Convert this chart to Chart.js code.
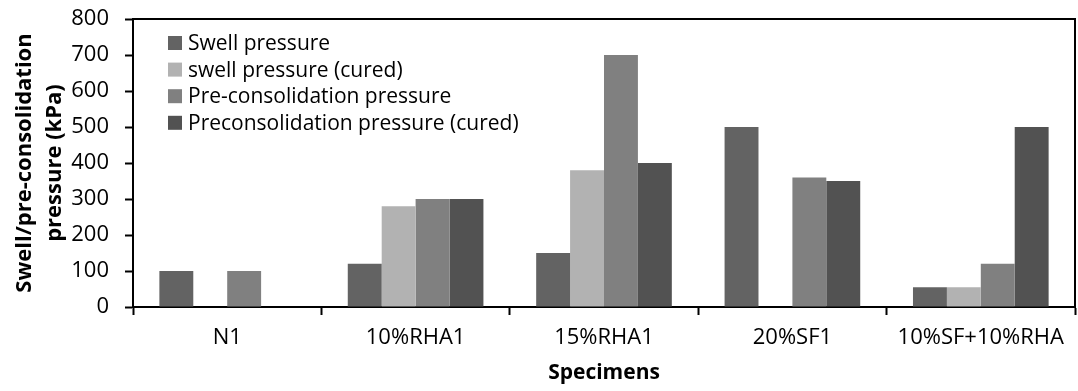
<!DOCTYPE html>
<html>
<head>
<meta charset="utf-8">
<script src="https://cdn.jsdelivr.net/npm/chart.js@4.4.1/dist/chart.umd.min.js"></script>
<style>
  html, body { margin: 0; padding: 0; background: #fff; }
  #wrap { width: 1078px; height: 391px; position: relative; }
</style>
</head>
<body>
<div id="wrap"><canvas id="pressureChart"></canvas></div>
<script>
// Especímenes y presiones medidas (kPa); null = sin ensayo
const specimens = ['N1', '10%RHA1', '15%RHA1', '20%SF1', '10%SF+10%RHA'];
const swellPressure = [100, 120, 150, 500, 55];
const swellPressureCured = [null, 280, 380, null, 55];
const preconPressure = [100, 300, 700, 360, 120];
const preconPressureCured = [null, 300, 400, 350, 500];

const seriesNames = [
    'Swell pressure',
    'swell pressure (cured)',
    'Pre-consolidation pressure',
    'Preconsolidation pressure (cured)'
];
const seriesColors = ['#636363', '#b2b2b2', '#808080', '#525252'];

const yMin = 0;
const yMax = 800;
const yStep = 100;

const FONT = "'Open Sans', 'Liberation Sans', sans-serif";

// Leyenda dibujada dentro del área del gráfico, arriba a la izquierda
const insideLegend = {
    id: 'insideLegend',
    afterDraw(chart) {
        const ctx = chart.ctx;
        const area = chart.chartArea;
        ctx.save();
        ctx.font = '21px ' + FONT;
        ctx.textBaseline = 'middle';
        chart.data.datasets.forEach((ds, i) => {
            const y = area.top + 24 + i * 26.6;
            ctx.fillStyle = ds.backgroundColor;
            ctx.fillRect(area.left + 35, y - 7, 14, 14);
            ctx.fillStyle = '#000';
            ctx.fillText(ds.label, area.left + 55, y + 1);
        });
        ctx.restore();
    }
};

// Marco superior y derecho + título del eje Y en dos líneas
const frameAndTitle = {
    id: 'frameAndTitle',
    afterDraw(chart) {
        const ctx = chart.ctx;
        const area = chart.chartArea;
        ctx.save();
        ctx.strokeStyle = '#000';
        ctx.lineWidth = 2;
        ctx.beginPath();
        ctx.moveTo(area.left, area.top);
        ctx.lineTo(area.right, area.top);
        ctx.lineTo(area.right, area.bottom);
        ctx.stroke();

        const midY = (area.top + area.bottom) / 2;
        ctx.translate(0, midY);
        ctx.rotate(-Math.PI / 2);
        ctx.fillStyle = '#000';
        ctx.font = 'bold 22px ' + FONT;
        ctx.textAlign = 'center';
        ctx.textBaseline = 'middle';
        ctx.fillText('Swell/pre-consolidation', 0, 25);
        ctx.fillText('pressure (kPa)', 0, 55);
        ctx.restore();
    }
};

const ctx = document.getElementById('pressureChart').getContext('2d');
new Chart(ctx, {
    type: 'bar',
    data: {
        labels: specimens,
        datasets: [swellPressure, swellPressureCured, preconPressure, preconPressureCured].map((values, i) => ({
            label: seriesNames[i],
            data: values,
            backgroundColor: seriesColors[i],
            borderWidth: 0,
            barPercentage: 1,
            categoryPercentage: 0.72
        }))
    },
    options: {
        responsive: true,
        maintainAspectRatio: false,
        animation: false,
        events: [],
        layout: { padding: { top: 19, right: 3, left: 0, bottom: 0 } },
        plugins: {
            legend: { display: false },
            tooltip: { enabled: false }
        },
        scales: {
            x: {
                afterFit(scale) {
                    scale.height = 84;
                    scale.paddingLeft = 0;
                    scale.paddingRight = 0;
                },
                border: { color: '#000', width: 2 },
                grid: {
                    offset: true,
                    drawOnChartArea: false,
                    tickLength: 8,
                    tickColor: '#000',
                    tickWidth: 2
                },
                ticks: {
                    color: '#000',
                    font: { family: FONT, size: 22 },
                    padding: 10,
                    maxRotation: 0
                },
                title: {
                    display: true,
                    text: 'Specimens',
                    color: '#000',
                    font: { family: FONT, size: 21, weight: 'bold' },
                    padding: { top: 0, bottom: 5 }
                }
            },
            y: {
                min: yMin,
                max: yMax,
                afterFit(scale) {
                    scale.width = 133;
                    // sin margen extra arriba/abajo: el área empieza en el padding del layout
                    scale.paddingTop = 0;
                    scale.paddingBottom = 0;
                },
                border: { color: '#000', width: 2 },
                grid: {
                    drawOnChartArea: false,
                    tickLength: 8,
                    tickColor: '#000',
                    tickWidth: 2
                },
                ticks: {
                    stepSize: yStep,
                    color: '#000',
                    font: { family: FONT, size: 22 },
                    padding: 16
                }
            }
        }
    },
    plugins: [insideLegend, frameAndTitle]
});
</script>
</body>
</html>
